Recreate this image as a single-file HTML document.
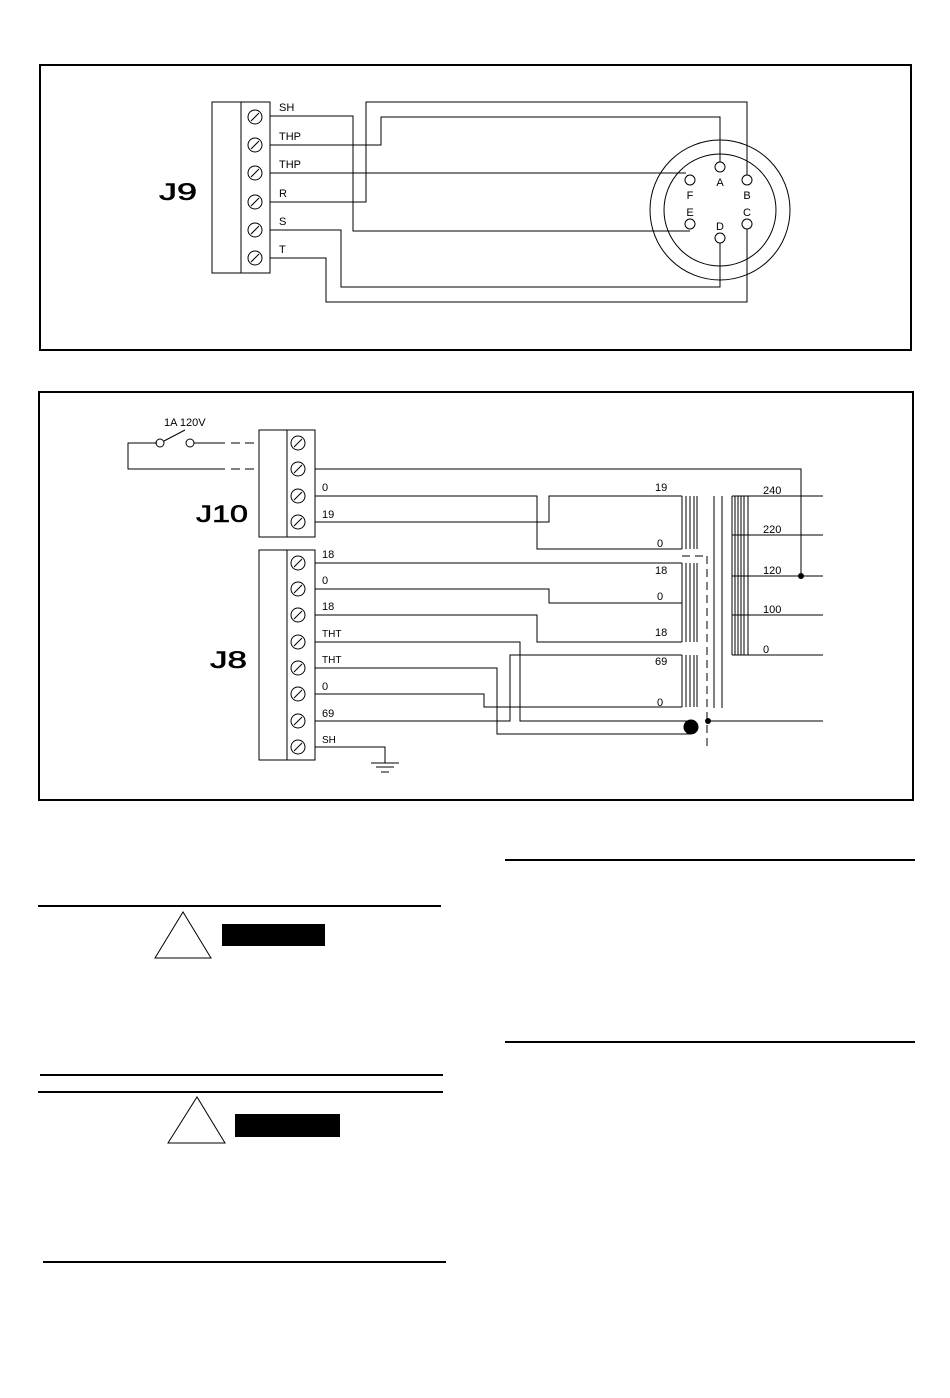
<!DOCTYPE html>
<html><head><meta charset="utf-8"><style>
html,body{margin:0;padding:0;background:#fff;}
svg{display:block;}
text{font-family:"Liberation Sans",Arial,sans-serif;fill:#000;}
</style></head><body>
<svg width="950" height="1398" viewBox="0 0 950 1398" xmlns="http://www.w3.org/2000/svg">
<defs>
<g id="scr"><circle r="7" fill="#fff" stroke="#000" stroke-width="1"/><line x1="-4" y1="4" x2="4" y2="-4" stroke="#000" stroke-width="1"/></g>
</defs>
<g fill="none" stroke="#000" stroke-width="1">
<rect x="40" y="65" width="871" height="285" stroke-width="2"/>
<rect x="212" y="102" width="58" height="171"/>
<line x1="241" y1="102" x2="241" y2="273"/>
<polyline points="270,116 353,116 353,231 690,231"/>
<polyline points="270,145 381,145 381,117 720,117 720,162"/>
<polyline points="270,173 686,173"/>
<polyline points="270,202 366,202 366,102 747,102 747,175"/>
<polyline points="270,230 341,230 341,287 720,287 720,243"/>
<polyline points="270,258 326,258 326,302 747,302 747,229"/>
<circle cx="720" cy="210" r="70"/>
<circle cx="720" cy="210" r="56"/>
<circle cx="720" cy="167" r="5"/>
<circle cx="747" cy="180" r="5"/>
<circle cx="690" cy="180" r="5"/>
<circle cx="690" cy="224" r="5"/>
<circle cx="747" cy="224" r="5"/>
<circle cx="720" cy="238" r="5"/>

<rect x="39" y="392" width="874" height="408" stroke-width="2"/>
<polyline points="157,443 128,443 128,469 225,469"/>
<circle cx="160" cy="443" r="4"/>
<circle cx="190" cy="443" r="4"/>
<line x1="164" y1="441" x2="185" y2="430"/>
<line x1="194" y1="443" x2="225" y2="443"/>
<line x1="231" y1="443" x2="240" y2="443"/><line x1="245" y1="443" x2="254" y2="443"/>
<line x1="231" y1="469" x2="240" y2="469"/><line x1="245" y1="469" x2="254" y2="469"/>
<rect x="259" y="430" width="56" height="107"/>
<line x1="287" y1="430" x2="287" y2="537"/>
<rect x="259" y="550" width="56" height="210"/>
<line x1="287" y1="550" x2="287" y2="760"/>
<polyline points="315,469 801,469 801,576"/>
<polyline points="315,496 537,496 537,549 682,549"/>
<polyline points="315,522 549,522 549,496 682,496"/>
<polyline points="315,563 682,563"/>
<polyline points="315,589 549,589 549,603 682,603"/>
<polyline points="315,615 537,615 537,642 682,642"/>
<polyline points="315,642 520,642 520,721 690,721"/>
<polyline points="315,668 497,668 497,734 690,734"/>
<polyline points="315,694 484,694 484,707 682,707"/>
<polyline points="315,721 510,721 510,655 682,655"/>
<polyline points="315,747 385,747 385,763"/>
<line x1="371" y1="763" x2="399" y2="763"/>
<line x1="376" y1="767" x2="394" y2="767"/>
<line x1="381" y1="772" x2="389" y2="772"/>
<g>
<line x1="682" y1="496" x2="682" y2="549"/><line x1="686" y1="496" x2="686" y2="549"/><line x1="690" y1="496" x2="690" y2="549"/><line x1="694" y1="496" x2="694" y2="549"/><line x1="697" y1="496" x2="697" y2="549"/>
<line x1="682" y1="563" x2="682" y2="642"/><line x1="686" y1="563" x2="686" y2="642"/><line x1="690" y1="563" x2="690" y2="642"/><line x1="694" y1="563" x2="694" y2="642"/><line x1="697" y1="563" x2="697" y2="642"/>
<line x1="682" y1="655" x2="682" y2="707"/><line x1="686" y1="655" x2="686" y2="707"/><line x1="690" y1="655" x2="690" y2="707"/><line x1="694" y1="655" x2="694" y2="707"/><line x1="697" y1="655" x2="697" y2="707"/>
</g>
<line x1="682" y1="556" x2="707" y2="556" stroke-dasharray="8,5"/>
<line x1="707" y1="556" x2="707" y2="748" stroke-dasharray="8,5"/>
<line x1="714" y1="496" x2="714" y2="708"/>
<line x1="722" y1="496" x2="722" y2="708"/>
<line x1="732" y1="496" x2="732" y2="655"/><line x1="735" y1="496" x2="735" y2="655"/><line x1="738" y1="496" x2="738" y2="655"/><line x1="741" y1="496" x2="741" y2="655"/><line x1="744" y1="496" x2="744" y2="655"/><line x1="748" y1="496" x2="748" y2="655"/>
<line x1="732" y1="655" x2="748" y2="655"/>
<line x1="732" y1="496" x2="823" y2="496"/>
<line x1="732" y1="535" x2="823" y2="535"/>
<line x1="732" y1="576" x2="823" y2="576"/>
<line x1="732" y1="615" x2="823" y2="615"/>
<line x1="732" y1="655" x2="823" y2="655"/>
<line x1="708" y1="721" x2="823" y2="721"/>

<line x1="505" y1="860" x2="915" y2="860" stroke-width="2"/>
<line x1="38" y1="906" x2="441" y2="906" stroke-width="2"/>
<polygon points="155,958 183,912 211,958"/>
<line x1="505" y1="1042" x2="915" y2="1042" stroke-width="2"/>
<line x1="40" y1="1075" x2="443" y2="1075" stroke-width="2"/>
<line x1="38" y1="1092" x2="443" y2="1092" stroke-width="2"/>
<polygon points="168,1143 197,1097 225,1143"/>
<line x1="43" y1="1262" x2="446" y2="1262" stroke-width="2"/>
</g>
<circle cx="801" cy="576" r="3"/>
<circle cx="691" cy="727" r="7.5"/>
<circle cx="708" cy="721" r="3"/>
<rect x="222" y="924" width="103" height="22" fill="#000"/>
<rect x="235" y="1114" width="105" height="23" fill="#000"/>

<use href="#scr" x="255" y="117"/><use href="#scr" x="255" y="145"/><use href="#scr" x="255" y="173"/><use href="#scr" x="255" y="202"/><use href="#scr" x="255" y="230"/><use href="#scr" x="255" y="258"/>
<use href="#scr" x="298" y="443"/><use href="#scr" x="298" y="469"/><use href="#scr" x="298" y="496"/><use href="#scr" x="298" y="522"/>
<use href="#scr" x="298" y="563"/><use href="#scr" x="298" y="589"/><use href="#scr" x="298" y="615"/><use href="#scr" x="298" y="642"/><use href="#scr" x="298" y="668"/><use href="#scr" x="298" y="694"/><use href="#scr" x="298" y="721"/><use href="#scr" x="298" y="747"/>

<g font-size="11">
<text x="279" y="111">SH</text><text x="279" y="140">THP</text><text x="279" y="168">THP</text>
<text x="279" y="197">R</text><text x="279" y="225">S</text><text x="279" y="253">T</text>
<text x="720" y="186" text-anchor="middle">A</text><text x="747" y="199" text-anchor="middle">B</text>
<text x="690" y="199" text-anchor="middle">F</text><text x="690" y="216" text-anchor="middle">E</text>
<text x="747" y="216" text-anchor="middle">C</text><text x="720" y="230" text-anchor="middle">D</text>
<text x="164" y="426">1A 120V</text>
<text x="322" y="491">0</text><text x="322" y="518">19</text>
<text x="322" y="558">18</text><text x="322" y="584">0</text><text x="322" y="610">18</text>
<text x="322" y="637" font-size="10">THT</text><text x="322" y="663" font-size="10">THT</text>
<text x="322" y="690">0</text><text x="322" y="717">69</text><text x="322" y="743" font-size="10">SH</text>
<text x="655" y="491">19</text><text x="657" y="547">0</text>
<text x="655" y="574">18</text><text x="657" y="600">0</text><text x="655" y="636">18</text>
<text x="655" y="665">69</text><text x="657" y="706">0</text>
<text x="763" y="494">240</text><text x="763" y="533">220</text><text x="763" y="574">120</text>
<text x="763" y="613">100</text><text x="763" y="653">0</text>
</g>
<text x="159" y="200" font-size="24" textLength="38" lengthAdjust="spacingAndGlyphs" stroke="#000" stroke-width="0.6">J9</text>
<text x="196" y="522" font-size="24" textLength="52" lengthAdjust="spacingAndGlyphs" stroke="#000" stroke-width="0.6">J10</text>
<text x="210" y="668" font-size="24" textLength="37" lengthAdjust="spacingAndGlyphs" stroke="#000" stroke-width="0.6">J8</text>
</svg>
</body></html>
